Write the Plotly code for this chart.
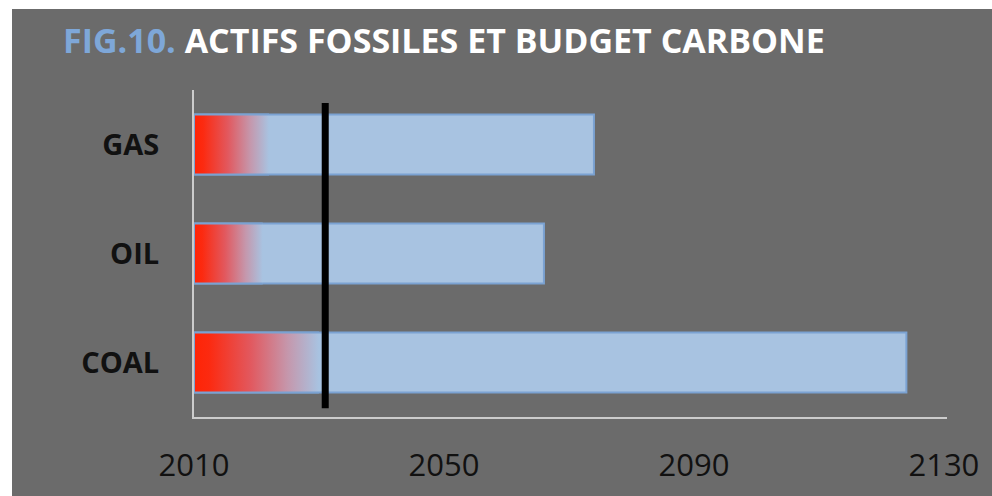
import plotly.graph_objects as go


FUELS = ["COAL", "OIL", "GAS"]
START_YEAR = 2010
DEPLETION_YEAR = [2124, 2066, 2074]
RED_UNTIL = [2030, 2021, 2022]
CARBON_BUDGET_YEAR = 2031
X_TICKS = [2010, 2050, 2090, 2130]

TITLE_FIG = "FIG.10."
TITLE_TEXT = "ACTIFS FOSSILES ET BUDGET CARBONE"

BG = "#6b6b6b"
BAR_FILL = "#a8c3e1"
BAR_EDGE = "#7ba2d2"
AXIS = "#cccccc"
FONT = "Open Sans"

W, H = 992, 496
L, R, T, B = 194, 45, 90, 79
BAR_WIDTH = 0.55

RED_SCALE = [
    [0.0, "#ff2406"],
    [0.12, "#fc2a10"],
    [0.45, "#e2585e"],
    [0.75, "#c597ac"],
    [1.0, BAR_FILL],
]


def px_to_paper_x(px):
    return (px - L) / (W - L - R)


def px_to_paper_y(py):
    return (H - B - py) / (H - T - B)


fig = go.Figure()

positions = list(range(len(FUELS)))

fig.add_trace(
    go.Bar(
        y=positions,
        x=[end - START_YEAR for end in DEPLETION_YEAR],
        base=START_YEAR,
        orientation="h",
        width=BAR_WIDTH,
        marker=dict(
            color=BAR_FILL,
            line=dict(color=BAR_EDGE, width=2),
        ),
        hoverinfo="skip",
        showlegend=False,
    )
)

half = BAR_WIDTH / 2
for pos, red_end in zip(positions, RED_UNTIL):
    fig.add_trace(
        go.Scatter(
            x=[red_end, START_YEAR, START_YEAR, red_end],
            y=[pos + half, pos + half, pos - half, pos - half],
            mode="lines",
            fill="toself",
            fillgradient=dict(
                type="horizontal",
                colorscale=RED_SCALE,
            ),
            line=dict(color=BAR_EDGE, width=2),
            hoverinfo="skip",
            showlegend=False,
        )
    )

fig.add_shape(
    type="line",
    x0=CARBON_BUDGET_YEAR,
    x1=CARBON_BUDGET_YEAR,
    y0=-0.42,
    y1=2.38,
    xref="x",
    yref="y",
    line=dict(color="black", width=7),
)

# grey card behind everything, leaving a thin white edge top and left
fig.add_shape(
    type="rect",
    xref="paper",
    yref="paper",
    x0=px_to_paper_x(12),
    x1=px_to_paper_x(W + 5),
    y0=px_to_paper_y(H + 5),
    y1=px_to_paper_y(9),
    fillcolor=BG,
    line=dict(width=0),
    layer="below",
)

fig.add_annotation(
    xref="paper",
    yref="paper",
    x=px_to_paper_x(61),
    y=px_to_paper_y(40),
    xanchor="left",
    yanchor="middle",
    showarrow=False,
    text=(
        f"<b><span style='color:#7ea7d8'>{TITLE_FIG}</span> "
        f"{TITLE_TEXT}</b>"
    ),
    font=dict(family=FONT, size=34, color="white"),
)

fig.update_xaxes(
    range=[START_YEAR, 2130.5],
    tickvals=X_TICKS,
    showgrid=False,
    zeroline=False,
    showline=True,
    linecolor=AXIS,
    linewidth=2,
    ticks="",
    ticklabelstandoff=20,
    tickfont=dict(family=FONT, size=31, color="#111111"),
)

fig.update_yaxes(
    range=[-0.5, 2.5],
    tickvals=positions,
    ticktext=FUELS,
    showgrid=False,
    zeroline=False,
    showline=True,
    linecolor=AXIS,
    linewidth=2,
    ticks="",
    ticklabelstandoff=27,
    tickfont=dict(family=FONT, size=29, color="#111111", weight="bold"),
)

fig.update_layout(
    width=W,
    height=H,
    margin=dict(l=L, r=R, t=T, b=B),
    paper_bgcolor="white",
    plot_bgcolor="rgba(0,0,0,0)",
    font=dict(family=FONT),
)

fig.write_html(
    "out.html",
    config={"displayModeBar": False},
    post_script="document.body.style.margin = '0';",
)
